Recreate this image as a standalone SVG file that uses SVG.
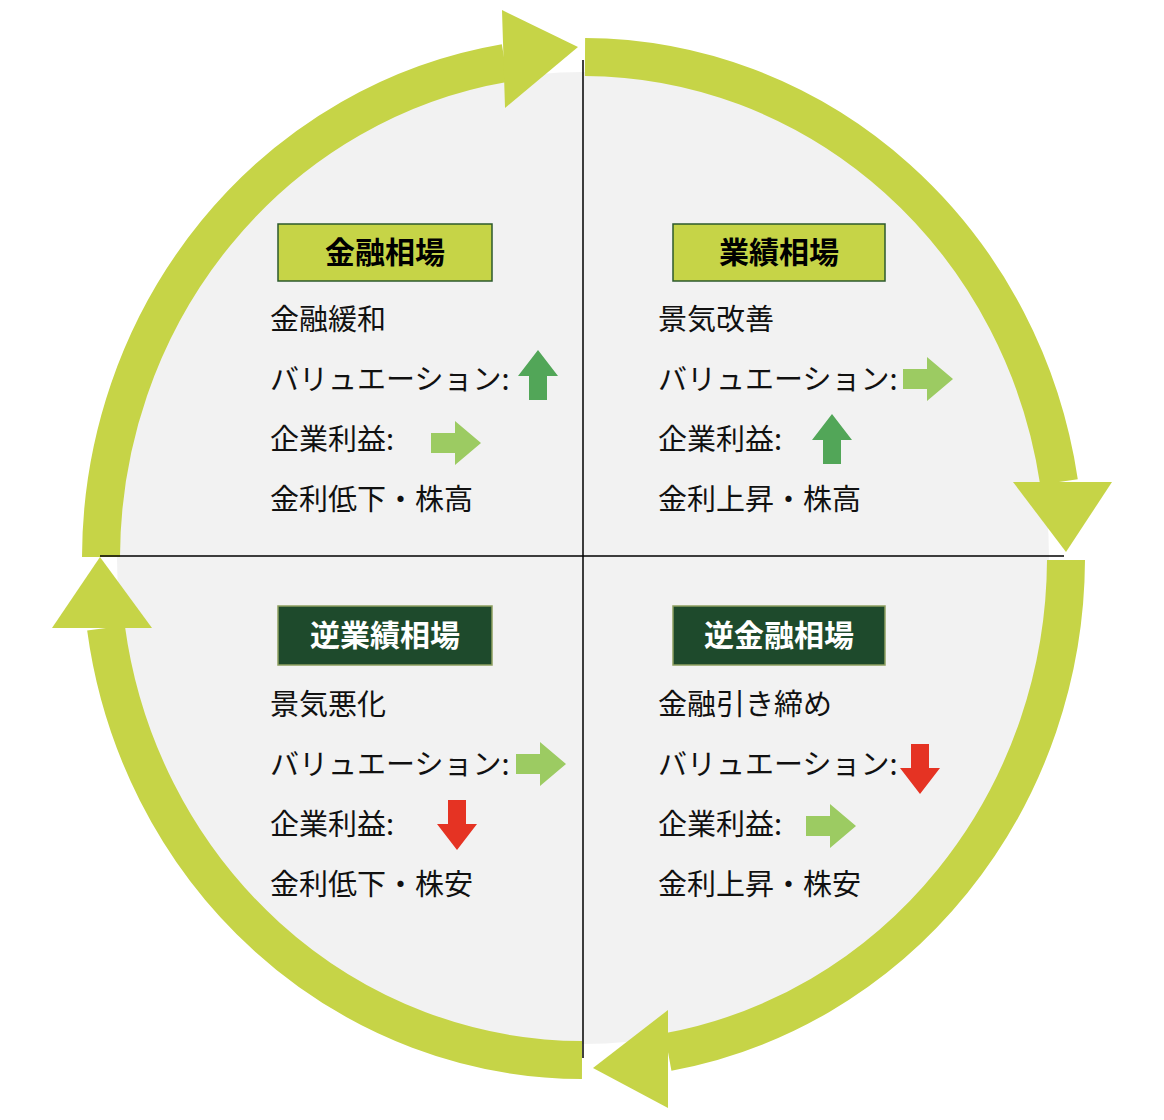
<svg xmlns="http://www.w3.org/2000/svg" width="1164" height="1120" viewBox="0 0 1164 1120">
<style>
.ring{fill:none;stroke:#c6d447;stroke-width:38}
.head{fill:#c6d447}
.t{font-family:"Noto Sans CJK JP",sans-serif;font-size:29px;fill:#111}
.h{font-family:"Noto Sans CJK JP",sans-serif;font-size:30px;font-weight:bold;text-anchor:middle}
.lb{fill:#c6d447;stroke:#2c5a2c;stroke-width:1.5}
.db{fill:#1e4a2c;stroke:#8fa060;stroke-width:1.5}
.up{fill:#52a658}.rt{fill:#9ccb62}.dn{fill:#e53323}
</style>
<defs>
<polygon id="au" points="0,-26 20,0 9,0 9,24 -9,24 -9,0 -20,0"/>
<polygon id="ar" points="26,0 0,-22 0,-10 -24,-10 -24,10 0,10 0,22"/>
<polygon id="ad" points="0,26 20,0 9,0 9,-24 -9,-24 -9,0 -20,0"/>
</defs>
<rect width="1164" height="1120" fill="#fff"/>
<ellipse cx="583" cy="558" rx="466" ry="486" fill="#f2f2f2"/>
<g id="connectors">
<path class="ring" d="M101,557 A482,502 0 0 1 505,63"/>
<polygon class="head" points="502,10 578,47 505,108"/>
<path class="ring" d="M585,57 A482,502 0 0 1 1059,482"/>
<polygon class="head" points="1013,482 1112,482 1066,552"/>
<path class="ring" d="M1066,560 A482,502 0 0 1 668,1052"/>
<polygon class="head" points="668,1010 668,1108 593,1068"/>
<path class="ring" d="M582,1060 A482,502 0 0 1 106,628"/>
<polygon class="head" points="52,628 152,628 100,557"/>
<line x1="583" y1="60" x2="583" y2="1058" stroke="#000" stroke-width="1.5"/>
<line x1="100" y1="556" x2="1064" y2="556" stroke="#000" stroke-width="1.5"/>
</g>
<g id="q1">
<rect class="lb" x="278" y="224" width="214" height="57"/>
<text class="h" x="385" y="263">金融相場</text>
<text class="t" x="270" y="330">金融緩和</text>
<text class="t" x="270" y="390">バリュエーション:</text>
<use href="#au" class="up" x="538" y="376"/>
<text class="t" x="270" y="450">企業利益:</text>
<use href="#ar" class="rt" x="455" y="443"/>
<text class="t" x="270" y="510">金利低下・株高</text>
</g>
<g id="q2">
<rect class="lb" x="673" y="224" width="212" height="57"/>
<text class="h" x="779" y="263">業績相場</text>
<text class="t" x="658" y="330">景気改善</text>
<text class="t" x="658" y="390">バリュエーション:</text>
<use href="#ar" class="rt" x="927" y="379"/>
<text class="t" x="658" y="450">企業利益:</text>
<use href="#au" class="up" x="832" y="440"/>
<text class="t" x="658" y="510">金利上昇・株高</text>
</g>
<g id="q3">
<rect class="db" x="278" y="606" width="214" height="59"/>
<text class="h" x="385" y="646" fill="#fff">逆業績相場</text>
<text class="t" x="270" y="715">景気悪化</text>
<text class="t" x="270" y="775">バリュエーション:</text>
<use href="#ar" class="rt" x="540" y="764"/>
<text class="t" x="270" y="835">企業利益:</text>
<use href="#ad" class="dn" x="457" y="824"/>
<text class="t" x="270" y="895">金利低下・株安</text>
</g>
<g id="q4">
<rect class="db" x="673" y="606" width="212" height="59"/>
<text class="h" x="779" y="646" fill="#fff">逆金融相場</text>
<text class="t" x="658" y="715">金融引き締め</text>
<text class="t" x="658" y="775">バリュエーション:</text>
<use href="#ad" class="dn" x="920" y="768"/>
<text class="t" x="658" y="835">企業利益:</text>
<use href="#ar" class="rt" x="830" y="826"/>
<text class="t" x="658" y="895">金利上昇・株安</text>
</g>
</svg>
